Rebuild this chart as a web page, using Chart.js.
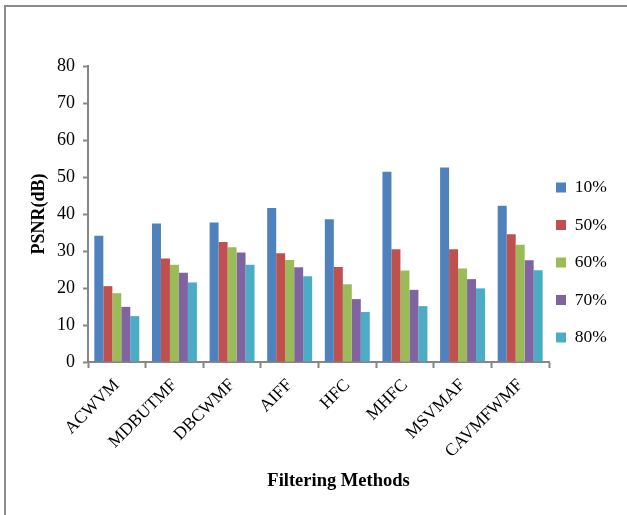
<!doctype html>
<html lang="en">

<head>
    <meta charset="utf-8">
    <script src="https://cdn.jsdelivr.net/npm/chart.js@4.4.1/dist/chart.umd.min.js"></script>
    <title>PSNR chart</title>
    <style>
        html, body { margin: 0; padding: 0; background: #fff; }
        #wrap { position: relative; width: 627px; height: 515px; }
        #frame { position: absolute; left: 4px; top: 5px; right: 0; bottom: 0;
                 border-left: 2px solid #8c8c8c; border-top: 2px solid #8c8c8c; }
        canvas { position: absolute; left: 0; top: 0; }
    </style>
</head>

<body>
    <div id="wrap">
        <div id="frame"></div>
        <canvas id="myChart" width="627" height="515"></canvas>
    </div>

    <script>
        // categories and series
        const methods = ['ACWVM', 'MDBUTMF', 'DBCWMF', 'AIFF', 'HFC', 'MHFC', 'MSVMAF', 'CAVMFWMF'];
        const noise10 = [34.1, 37.4, 37.7, 41.6, 38.6, 51.4, 52.6, 42.2];
        const noise50 = [20.5, 28.0, 32.4, 29.4, 25.7, 30.5, 30.5, 34.5];
        const noise60 = [18.6, 26.3, 31.0, 27.6, 21.0, 24.7, 25.3, 31.7];
        const noise70 = [14.9, 24.1, 29.6, 25.6, 17.0, 19.5, 22.4, 27.5];
        const noise80 = [12.4, 21.5, 26.3, 23.2, 13.5, 15.1, 19.9, 24.8];
        const seriesNames = ['10%', '50%', '60%', '70%', '80%'];
        const yTicks = [0, 10, 20, 30, 40, 50, 60, 70, 80];

        const colors = ['#4f81bd', '#c0504d', '#9bbb59', '#8064a2', '#4bacc6'];
        const serif = '"Liberation Serif", "Times New Roman", serif';
        const axisGrey = '#868686';

        const series = [noise10, noise50, noise60, noise70, noise80];

        // keep the legend narrow and move it a little closer to the plot
        const legendFit = {
            id: 'legendFit',
            afterInit(chart) {
                const lg = chart.legend;
                const fit = lg.fit;
                lg.fit = function () {
                    fit.call(this);
                    this.width = 78;
                };
            },
            afterLayout(chart) {
                const lg = chart.legend;
                lg.left -= 13;
                lg.top -= 28;
                lg.bottom -= 28;
            }
        };

        // x axis title, a bit right of the plot centre as in the original
        const xTitle = {
            id: 'xTitle',
            afterDraw(chart) {
                const c = chart.ctx, a = chart.chartArea;
                c.save();
                c.font = 'bold 18.5px ' + serif;
                c.fillStyle = '#000';
                c.textAlign = 'center';
                c.textBaseline = 'middle';
                c.fillText('Filtering Methods', (a.left + a.right) / 2 + 20, 481);
                c.restore();
            }
        };

        const ctx = document.getElementById('myChart').getContext('2d');
        const chart = new Chart(ctx, {
            type: 'bar',
            data: {
                labels: methods,
                datasets: series.map(function (d, i) {
                    return {
                        label: seriesNames[i],
                        data: d,
                        backgroundColor: colors[i],
                        borderWidth: 0
                    };
                })
            },
            options: {
                responsive: false,
                animation: false,
                layout: { padding: { top: 66, left: 0, right: 0, bottom: 0 } },
                plugins: {
                    tooltip: { enabled: false },
                    legend: {
                        position: 'right',
                        labels: {
                            boxWidth: 10,
                            boxHeight: 10,
                            padding: 20,
                            color: '#000',
                            font: { family: serif, size: 17.5 }
                        }
                    }
                },
                datasets: {
                    bar: { categoryPercentage: 0.78, barPercentage: 1.0 }
                },
                scales: {
                    x: {
                        afterFit(s) { s.height = 153; },
                        grid: {
                            offset: true,
                            drawOnChartArea: false,
                            drawTicks: true,
                            tickLength: 6,
                            tickColor: axisGrey,
                            tickWidth: 2
                        },
                        border: { color: axisGrey, width: 2 },
                        ticks: {
                            color: '#000',
                            maxRotation: 45,
                            minRotation: 45,
                            padding: 7,
                            font: { family: serif, size: 17.5 }
                        }
                    },
                    y: {
                        min: 0,
                        max: 80,
                        afterFit(s) { s.width = 88; },
                        afterBuildTicks(s) { s.ticks = yTicks.map(function (v) { return { value: v }; }); },
                        grid: {
                            drawOnChartArea: false,
                            drawTicks: true,
                            tickLength: 5,
                            tickColor: axisGrey,
                            tickWidth: 2
                        },
                        border: { color: axisGrey, width: 2 },
                        ticks: {
                            color: '#000',
                            padding: 8,
                            font: { family: serif, size: 18 }
                        },
                        title: {
                            display: true,
                            text: 'PSNR(dB)',
                            color: '#000',
                            padding: { top: 29, bottom: 0 },
                            font: { family: serif, size: 18, weight: 'bold' }
                        }
                    }
                }
            },
            plugins: [legendFit, xTitle]
        });
    </script>
</body>

</html>
